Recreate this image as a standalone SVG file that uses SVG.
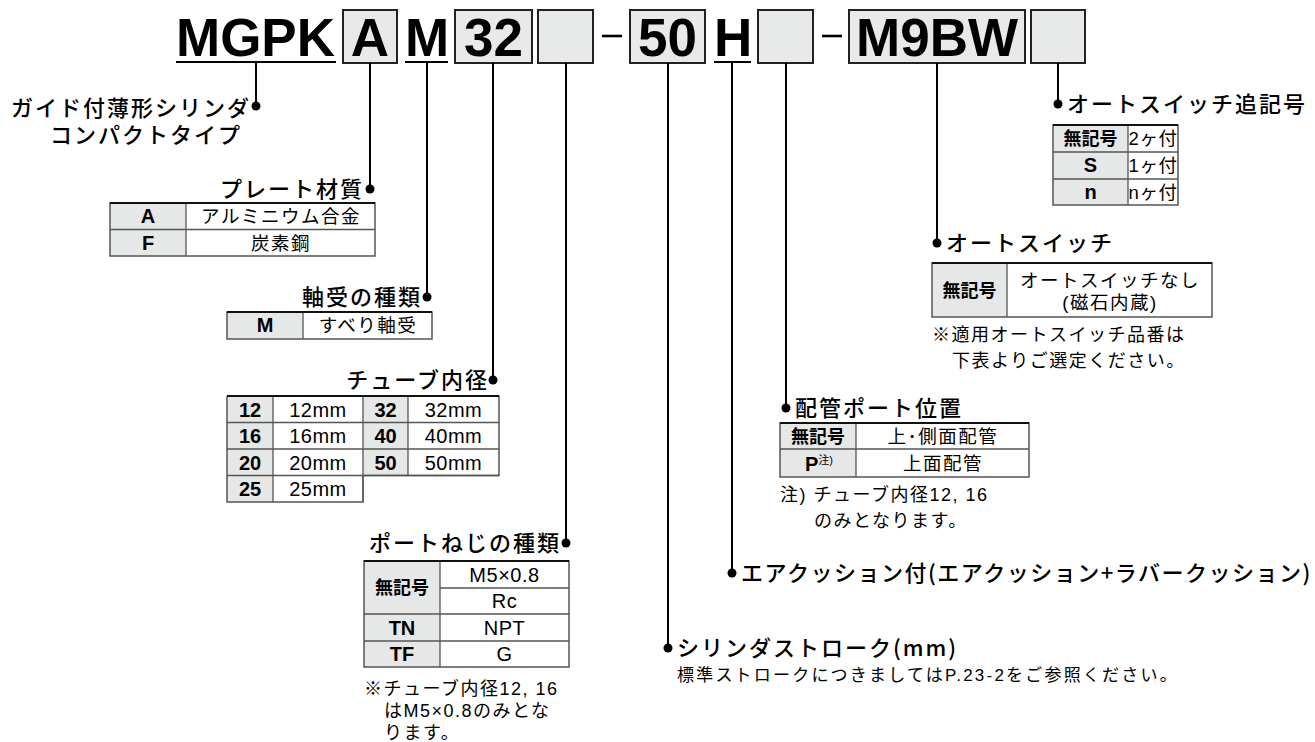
<svg xmlns="http://www.w3.org/2000/svg" width="1315" height="742" viewBox="0 0 1315 742">
<style>
.hd{font-family:"Liberation Sans",Arial,sans-serif;font-weight:bold;font-size:53px;fill:#000}
.box{fill:#e8e9e9;stroke:#222;stroke-width:2}
.ul{stroke:#000;stroke-width:2.2}
.ttl{font-family:"Noto Sans CJK JP",sans-serif;font-weight:500;font-size:22px;letter-spacing:2px;fill:#000}
.tx{font-family:"Liberation Sans","Noto Sans CJK JP",sans-serif;font-size:18.5px;letter-spacing:1.5px;fill:#000}
.tl{font-family:"Liberation Sans",Arial,sans-serif;font-size:20px;letter-spacing:0.5px;fill:#000}
.tb{font-family:"Liberation Sans","Noto Sans CJK JP",sans-serif;font-size:20px;font-weight:bold;fill:#000}
.jb{font-family:"Noto Sans CJK JP",sans-serif;font-size:18px;font-weight:bold;fill:#000}
.nt{font-family:"Liberation Sans","Noto Sans CJK JP",sans-serif;font-size:18px;letter-spacing:1.5px;fill:#000}
.g{fill:#e6e7e7}
.w{fill:#fff}
.ol{fill:none;stroke:#555;stroke-width:1.5}
.top{stroke:#111;stroke-width:2.2}
.ln{stroke:#555;stroke-width:1.3}
.c{text-anchor:middle}
.e{text-anchor:end}
.cn line{stroke:#000;stroke-width:2}
.cn circle{fill:#000}
</style>

<g id="header">
  <text class="hd" x="176" y="56">MGPK</text>
  <line class="ul" x1="176" y1="62" x2="336" y2="62"/>
  <rect class="box" x="343" y="10" width="54" height="53"/>
  <text class="hd c" x="370" y="56">A</text>
  <text class="hd" x="405" y="56">M</text>
  <line class="ul" x1="405" y1="62" x2="448" y2="62"/>
  <rect class="box" x="455" y="10" width="77" height="53"/>
  <text class="hd c" x="493.5" y="56">32</text>
  <rect class="box" x="538" y="10" width="55" height="53"/>
  <line class="ul" x1="602" y1="36" x2="622" y2="36" style="stroke-width:2.6"/>
  <rect class="box" x="630" y="10" width="75" height="53"/>
  <text class="hd c" x="667.5" y="56">50</text>
  <text class="hd" x="714" y="56">H</text>
  <line class="ul" x1="714" y1="62" x2="751" y2="62"/>
  <rect class="box" x="758" y="10" width="55" height="53"/>
  <line class="ul" x1="822" y1="36" x2="842" y2="36" style="stroke-width:2.6"/>
  <rect class="box" x="849" y="10" width="176" height="53"/>
  <text class="hd c" x="937" y="56">M9BW</text>
  <rect class="box" x="1031" y="10" width="54" height="53"/>
</g>

<g id="connectors" class="cn">
  <line x1="256" y1="62" x2="256" y2="106"/><circle cx="256" cy="106" r="4.5"/>
  <line x1="370" y1="63" x2="370" y2="189"/><circle cx="370" cy="189" r="4.5"/>
  <line x1="427" y1="62" x2="427" y2="297"/><circle cx="427" cy="297" r="4.5"/>
  <line x1="493" y1="63" x2="493" y2="380"/><circle cx="493" cy="380" r="4.5"/>
  <line x1="566" y1="63" x2="566" y2="543"/><circle cx="566" cy="543" r="4.5"/>
  <line x1="668" y1="63" x2="668" y2="648"/><circle cx="668" cy="648" r="4.5"/>
  <line x1="732" y1="62" x2="732" y2="573"/><circle cx="732" cy="573" r="4.5"/>
  <line x1="786" y1="63" x2="786" y2="408"/><circle cx="786" cy="408" r="4.5"/>
  <line x1="937" y1="63" x2="937" y2="243"/><circle cx="937" cy="243" r="4.5"/>
  <line x1="1058" y1="63" x2="1058" y2="104"/><circle cx="1058" cy="104" r="4.5"/>
</g>

<g id="series">
  <text class="ttl e" x="251" y="116">ガイド付薄形シリンダ</text>
  <text class="ttl e" x="242" y="143">コンパクトタイプ</text>
</g>

<g id="plate">
  <text class="ttl e" x="364" y="197">プレート材質</text>
  <rect class="g" x="110" y="203" width="76" height="53"/>
  <rect class="w" x="186" y="203" width="189" height="53"/>
  <line class="ln" x1="110" y1="229.5" x2="375" y2="229.5"/>
  <line class="ln" x1="186" y1="203" x2="186" y2="256"/>
  <rect class="ol" x="110" y="203" width="265" height="53"/>
  <line class="top" x1="110" y1="203" x2="375" y2="203"/>
  <text class="tb c" x="148" y="223">A</text>
  <text class="tx c" x="281" y="223">アルミニウム合金</text>
  <text class="tb c" x="148" y="250">F</text>
  <text class="tx c" x="281" y="250">炭素鋼</text>
</g>

<g id="bearing">
  <text class="ttl e" x="422" y="305">軸受の種類</text>
  <rect class="g" x="227" y="312" width="76" height="27"/>
  <rect class="w" x="303" y="312" width="129" height="27"/>
  <line class="ln" x1="303" y1="312" x2="303" y2="339"/>
  <rect class="ol" x="227" y="312" width="205" height="27"/>
  <line class="top" x1="227" y1="312" x2="432" y2="312"/>
  <text class="tb c" x="265" y="332">M</text>
  <text class="tx c" x="368" y="332">すべり軸受</text>
</g>

<g id="bore">
  <text class="ttl e" x="489" y="388">チューブ内径</text>
  <rect class="g" x="227" y="396" width="46" height="106"/>
  <rect class="w" x="273" y="396" width="90" height="106"/>
  <rect class="g" x="363" y="396" width="45" height="79.5"/>
  <rect class="w" x="408" y="396" width="91" height="79.5"/>
  <line class="ln" x1="227" y1="422.5" x2="499" y2="422.5"/>
  <line class="ln" x1="227" y1="449" x2="499" y2="449"/>
  <line class="ln" x1="227" y1="475.5" x2="499" y2="475.5"/>
  <line class="ln" x1="273" y1="396" x2="273" y2="502"/>
  <line class="ln" x1="363" y1="396" x2="363" y2="502"/>
  <line class="ln" x1="408" y1="396" x2="408" y2="475.5"/>
  <polyline class="ol" points="227,396 499,396 499,475.5 363,475.5 363,502 227,502 227,396"/>
  <line class="top" x1="227" y1="396" x2="499" y2="396"/>
  <text class="tb c" x="250" y="416.5">12</text><text class="tl c" x="318" y="416.5">12mm</text>
  <text class="tb c" x="385.5" y="416.5">32</text><text class="tl c" x="453.5" y="416.5">32mm</text>
  <text class="tb c" x="250" y="443">16</text><text class="tl c" x="318" y="443">16mm</text>
  <text class="tb c" x="385.5" y="443">40</text><text class="tl c" x="453.5" y="443">40mm</text>
  <text class="tb c" x="250" y="469.5">20</text><text class="tl c" x="318" y="469.5">20mm</text>
  <text class="tb c" x="385.5" y="469.5">50</text><text class="tl c" x="453.5" y="469.5">50mm</text>
  <text class="tb c" x="250" y="496">25</text><text class="tl c" x="318" y="496">25mm</text>
</g>

<g id="port-thread">
  <text class="ttl e" x="561" y="551">ポートねじの種類</text>
  <rect class="g" x="364" y="561" width="76" height="106"/>
  <rect class="w" x="440" y="561" width="129" height="106"/>
  <line class="ln" x1="440" y1="588" x2="569" y2="588"/>
  <line class="ln" x1="364" y1="614" x2="569" y2="614"/>
  <line class="ln" x1="364" y1="641" x2="569" y2="641"/>
  <line class="ln" x1="440" y1="561" x2="440" y2="667"/>
  <rect class="ol" x="364" y="561" width="205" height="106"/>
  <line class="top" x1="364" y1="561" x2="569" y2="561"/>
  <text class="jb c" x="402" y="594">無記号</text>
  <text class="tl c" x="504.5" y="582">M5×0.8</text>
  <text class="tl c" x="504.5" y="608">Rc</text>
  <text class="tb c" x="402" y="635">TN</text>
  <text class="tl c" x="504.5" y="635">NPT</text>
  <text class="tb c" x="402" y="661">TF</text>
  <text class="tl c" x="504.5" y="661">G</text>
  <text class="nt" x="364" y="695">※チューブ内径12, 16</text>
  <text class="nt" x="384" y="717">はM5×0.8のみとな</text>
  <text class="nt" x="384" y="739">ります。</text>
</g>

<g id="stroke">
  <text class="ttl" x="677" y="656">シリンダストローク(mm)</text>
  <text class="nt" x="677" y="681" style="font-size:17px;letter-spacing:2.2px">標準ストロークにつきましてはP.23-2をご参照ください。</text>
</g>

<g id="cushion">
  <text class="ttl" x="741" y="581" style="letter-spacing:1.5px">エアクッション付(エアクッション+ラバークッション)</text>
</g>

<g id="port-location">
  <text class="ttl" x="795" y="416">配管ポート位置</text>
  <rect class="g" x="780" y="423" width="76" height="54"/>
  <rect class="w" x="856" y="423" width="173" height="54"/>
  <line class="ln" x1="780" y1="449" x2="1029" y2="449"/>
  <line class="ln" x1="856" y1="423" x2="856" y2="477"/>
  <rect class="ol" x="780" y="423" width="249" height="54"/>
  <line class="top" x1="780" y1="423" x2="1029" y2="423"/>
  <text class="jb c" x="818" y="443">無記号</text>
  <text class="tx c" x="943" y="443">上･側面配管</text>
  <text class="tb" x="805" y="471">P<tspan style="font-size:11px;font-weight:normal" dy="-7">注)</tspan></text>
  <text class="tx c" x="943" y="470">上面配管</text>
  <text class="nt" x="780" y="501">注) チューブ内径12, 16</text>
  <text class="nt" x="814" y="527">のみとなります。</text>
</g>

<g id="auto-switch">
  <text class="ttl" x="946" y="251">オートスイッチ</text>
  <rect class="g" x="932" y="263" width="75" height="54"/>
  <rect class="w" x="1007" y="263" width="205" height="54"/>
  <line class="ln" x1="1007" y1="263" x2="1007" y2="317"/>
  <rect class="ol" x="932" y="263" width="280" height="54"/>
  <line class="top" x1="932" y1="263" x2="1212" y2="263"/>
  <text class="jb c" x="969.5" y="297">無記号</text>
  <text class="tx c" x="1110" y="287">オートスイッチなし</text>
  <text class="tx c" x="1110" y="309">(磁石内蔵)</text>
  <text class="nt" x="932" y="341">※適用オートスイッチ品番は</text>
  <text class="nt" x="952" y="367">下表よりご選定ください。</text>
</g>

<g id="switch-qty">
  <text class="ttl" x="1067" y="112">オートスイッチ追記号</text>
  <rect class="g" x="1053" y="125" width="75" height="80"/>
  <rect class="w" x="1128" y="125" width="50" height="80"/>
  <line class="ln" x1="1053" y1="152" x2="1178" y2="152"/>
  <line class="ln" x1="1053" y1="179" x2="1178" y2="179"/>
  <line class="ln" x1="1128" y1="125" x2="1128" y2="205"/>
  <rect class="ol" x="1053" y="125" width="125" height="80"/>
  <line class="top" x1="1053" y1="125" x2="1178" y2="125"/>
  <text class="jb c" x="1090.5" y="145">無記号</text>
  <text class="tx c" x="1153" y="145" style="letter-spacing:0.5px">2ヶ付</text>
  <text class="tb c" x="1090.5" y="172">S</text>
  <text class="tx c" x="1153" y="172" style="letter-spacing:0.5px">1ヶ付</text>
  <text class="tb c" x="1090.5" y="199">n</text>
  <text class="tx c" x="1153" y="199" style="letter-spacing:0.5px">nヶ付</text>
</g>
</svg>
